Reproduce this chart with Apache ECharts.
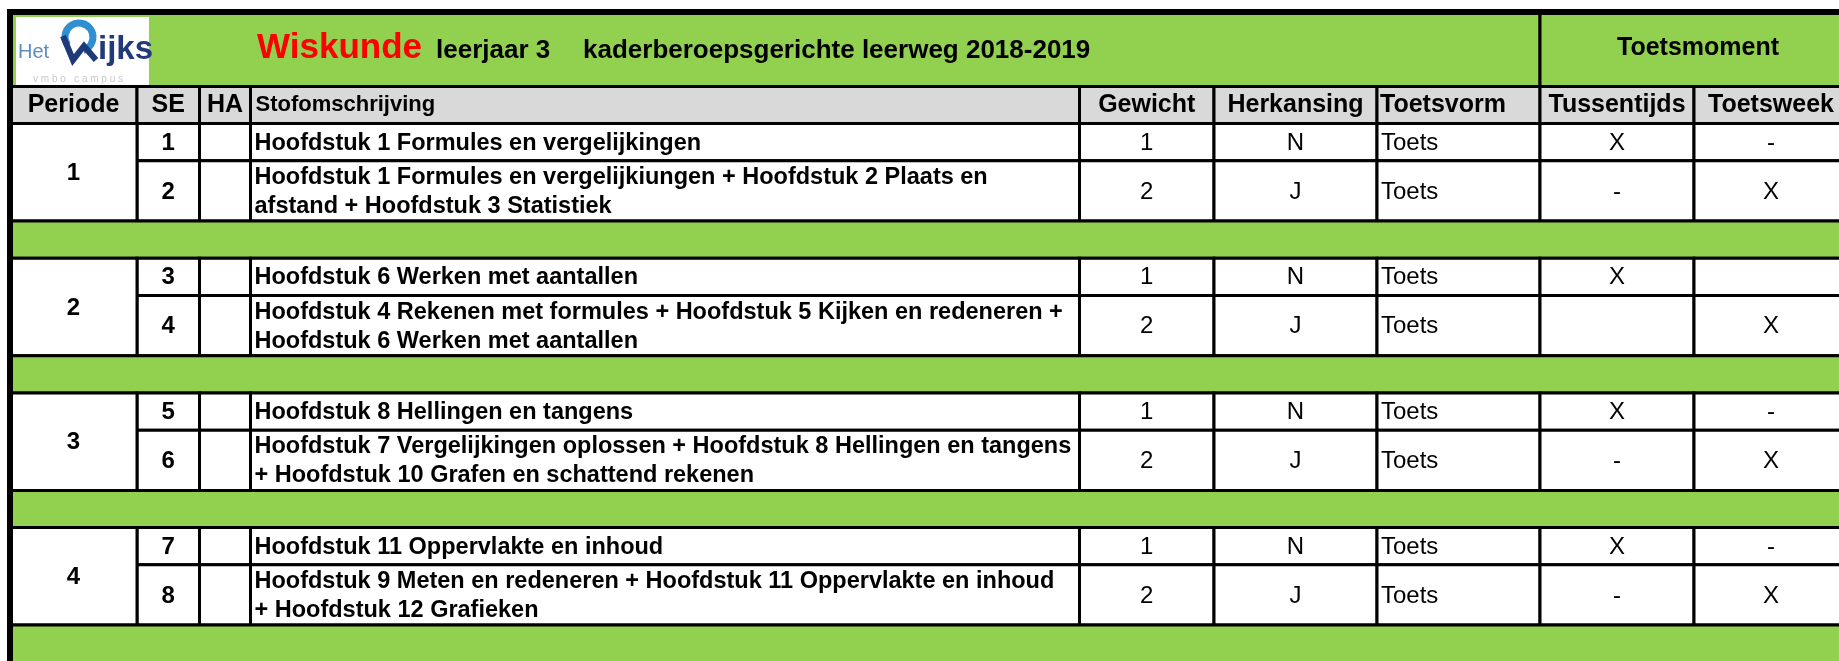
<!DOCTYPE html>
<html>
<head>
<meta charset="utf-8">
<title>Wiskunde leerjaar 3 - PTA</title>
<script src="https://cdn.jsdelivr.net/npm/echarts@6/dist/echarts.min.js"></script>
<style>
  html, body { margin: 0; padding: 0; background: #fff; }
  #charts { width: 1839px; height: 661px; }
</style>
</head>
<body>
<div id="charts"></div>
<script>
// --- data (uit de PTA-tabel) ---
const vak = "Wiskunde";
const leerjaar = "leerjaar 3";
const leerweg = "kaderberoepsgerichte leerweg 2018-2019";
const groepKop = "Toetsmoment";
const kolomKoppen = ["Periode", "SE", "HA", "Stofomschrijving", "Gewicht", "Herkansing", "Toetsvorm", "Tussentijds", "Toetsweek"];
const perioden = ["1", "2", "3", "4"];
const seNummers = ["1", "2", "3", "4", "5", "6", "7", "8"];
const ha = ["", "", "", "", "", "", "", ""];
const stof = [
  "Hoofdstuk 1 Formules en vergelijkingen",
  "Hoofdstuk 1 Formules en vergelijkiungen + Hoofdstuk 2 Plaats en\nafstand + Hoofdstuk 3 Statistiek",
  "Hoofdstuk 6 Werken met aantallen",
  "Hoofdstuk 4 Rekenen met formules + Hoofdstuk 5 Kijken en redeneren +\nHoofdstuk 6 Werken met aantallen",
  "Hoofdstuk 8 Hellingen en tangens",
  "Hoofdstuk 7 Vergelijkingen oplossen + Hoofdstuk 8 Hellingen en tangens\n+ Hoofdstuk 10 Grafen en schattend rekenen",
  "Hoofdstuk 11 Oppervlakte en inhoud",
  "Hoofdstuk 9 Meten en redeneren + Hoofdstuk 11 Oppervlakte en inhoud\n+ Hoofdstuk 12 Grafieken"
];
const gewicht = ["1", "2", "1", "2", "1", "2", "1", "2"];
const herkansing = ["N", "J", "N", "J", "N", "J", "N", "J"];
const toetsvorm = ["Toets", "Toets", "Toets", "Toets", "Toets", "Toets", "Toets", "Toets"];
const tussentijds = ["X", "-", "X", "", "X", "-", "X", "-"];
const toetsweek = ["-", "X", "", "X", "-", "X", "-", "X"];

// --- layout (kolombreedtes / rijhoogtes, zoals in het werkblad) ---
const kolomBreedte = [127, 62.5, 51, 829, 134.5, 163, 163, 154, 154];
const rijEenheid = 37.2;   // px per enkele rij
const dubbeleRij = 1.62;   // rij met twee regels tekst
const GROEN = "#92D050", GRIJS = "#D9D9D9";
const FONT = '"Liberation Sans", Arial, sans-serif';

const kolomStart = [0];
kolomBreedte.forEach((b, i) => kolomStart.push(kolomStart[i] + b));
const totaalX = kolomStart[kolomStart.length - 1];

// cellen opbouwen
const cells = [];
cells.push({ x0: 0, x1: kolomStart[7], y0: 0, y1: 2, fill: GROEN, kind: "title" });
cells.push({ x0: kolomStart[7], x1: totaalX, y0: 0, y1: 2, fill: GROEN, kind: "group", text: groepKop });
kolomKoppen.forEach((k, c) => {
  cells.push({ x0: kolomStart[c], x1: kolomStart[c + 1], y0: 2, y1: 3, fill: GRIJS, kind: "head", col: c, text: k });
});
let y = 3;
perioden.forEach((per, p) => {
  const start = y;
  for (let r = 0; r < 2; r++) {
    const i = p * 2 + r;
    const h = stof[i].indexOf("\n") >= 0 ? dubbeleRij : 1;
    const rij = [null, seNummers[i], ha[i], stof[i], gewicht[i], herkansing[i], toetsvorm[i], tussentijds[i], toetsweek[i]];
    for (let c = 1; c < 9; c++) {
      cells.push({ x0: kolomStart[c], x1: kolomStart[c + 1], y0: y, y1: y + h, fill: "#fff", kind: "body", col: c, text: rij[c] });
    }
    y += h;
  }
  cells.push({ x0: 0, x1: kolomStart[1], y0: start, y1: y, fill: "#fff", kind: "body", col: 0, text: per });
  const band = p === perioden.length - 1 ? 1.5 : 1;
  cells.push({ x0: 0, x1: totaalX, y0: y, y1: y + band, fill: GROEN, kind: "band" });
  y += band;
});
const totaalY = y;
cells.push({ x0: 0, x1: totaalX, y0: 0, y1: totaalY, fill: null, kind: "frame" });

const bodyStyle = [
  { align: "center", bold: true }, { align: "center", bold: true }, { align: "center", bold: true },
  { align: "left", bold: true, size: 23.5 }, { align: "center" }, { align: "center" }, { align: "left" },
  { align: "center" }, { align: "center" }
];

function tekst(x, yy, str, size, bold, align, color, extra) {
  return {
    type: "text", x: x, y: yy,
    style: Object.assign({
      text: str, fill: color || "#000", align: align, verticalAlign: "middle",
      font: (bold ? "bold " : "") + size + "px " + FONT
    }, extra || {})
  };
}

function renderItem(params, api) {
  const c = cells[params.dataIndex];
  const p0 = api.coord([api.value(0), api.value(2)]);
  const p1 = api.coord([api.value(1), api.value(3)]);
  const L = p0[0], T = Math.min(p0[1], p1[1]);
  const W = p1[0] - p0[0], H = Math.abs(p1[1] - p0[1]);
  const kids = [{
    type: "rect", shape: { x: L, y: T, width: W, height: H },
    style: { fill: c.fill || "none", stroke: "#000", lineWidth: c.kind === "frame" ? 6 : 3 }
  }];
  if (c.kind === "title") {
    // logo "Het Rijks vmbo campus"
    kids.push({ type: "rect", shape: { x: L + 6, y: T + 5, width: 133, height: 69 }, style: { fill: "#fff" } });
    kids.push(tekst(L + 8, T + 40, "Het", 20, false, "left", "#5a8fc0"));
    kids.push({ type: "arc", shape: { cx: L + 69, cy: T + 25, r: 14, startAngle: Math.PI * 0.8, endAngle: Math.PI * 0.4 },
      style: { fill: "none", stroke: "#2f8fd0", lineWidth: 7 } });
    kids.push({ type: "polyline", shape: { points: [[L + 53, T + 24], [L + 63, T + 48], [L + 74, T + 34], [L + 86, T + 48]] },
      style: { fill: "none", stroke: "#1f3a78", lineWidth: 6, lineJoin: "miter" } });
    kids.push(tekst(L + 88, T + 38, "ijks", 33, true, "left", "#223a7a"));
    kids.push(tekst(L + 23, T + 67, "v m b o   c a m p u s", 10, false, "left", "#c9c9c9"));
    kids.push(tekst(L + 247, T + 36, vak, 35, true, "left", "#FF0000"));
    kids.push(tekst(L + 426, T + 39, leerjaar, 26, true, "left"));
    kids.push(tekst(L + 573, T + 39, leerweg, 26, true, "left"));
  } else if (c.kind === "group") {
    kids.push(tekst(L + W / 2 + 4, T + 36, c.text, 25, true, "center"));
  } else if (c.kind === "head") {
    if (c.col === 3) kids.push(tekst(L + 5, T + H / 2, c.text, 22, true, "left"));
    else if (c.col === 6) kids.push(tekst(L + 3, T + H / 2, c.text, 25, true, "left"));
    else kids.push(tekst(L + W / 2, T + H / 2, c.text, 25, true, "center"));
  } else if (c.kind === "body" && c.text) {
    const s = bodyStyle[c.col];
    const x = s.align === "left" ? L + 4 : L + W / 2;
    kids.push(tekst(x, T + H / 2 + 1, c.text, s.size || 24, !!s.bold, s.align, "#000", { lineHeight: 29 }));
  }
  return { type: "group", children: kids };
}

const myChart = echarts.init(document.getElementById("charts"));
const option = {
  animation: false,
  grid: { left: 10, top: 12, width: totaalX, height: totaalY * rijEenheid, outerBoundsMode: "none", containLabel: false },
  xAxis: { type: "value", min: 0, max: totaalX, show: false },
  yAxis: { type: "value", min: 0, max: totaalY, inverse: true, show: false },
  series: [{
    type: "custom",
    silent: true,
    clip: false,
    renderItem: renderItem,
    encode: { x: [0, 1], y: [2, 3] },
    data: cells.map(c => [c.x0, c.x1, c.y0, c.y1])
  }]
};
myChart.setOption(option);
window.addEventListener("resize", function () { myChart.resize(); });
</script>
</body>
</html>
